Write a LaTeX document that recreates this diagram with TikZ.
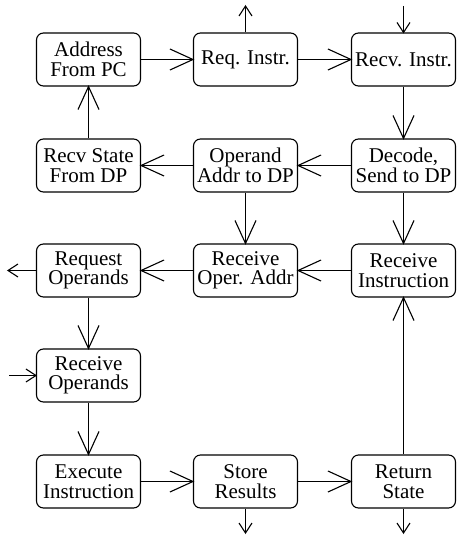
\documentclass[tikz,border=0pt]{standalone}
\usepackage{fontspec}
\setmainfont{Liberation Serif}
\usetikzlibrary{arrows.meta}

% open "V" head whose shaft runs right up to the tip
\pgfdeclarearrow{
  name = OpenVee,
  parameters = {\the\pgfarrowlength,\the\pgfarrowwidth},
  setup code = {
    \pgfarrowssettipend{0pt}
    \pgfarrowssetlineend{0pt}
    \pgfarrowssetbackend{-\pgfarrowlength}
    \pgfarrowshullpoint{0pt}{0pt}
    \pgfarrowsupperhullpoint{-\pgfarrowlength}{.5\pgfarrowwidth}
    \pgfarrowssavethe\pgfarrowlength
    \pgfarrowssavethe\pgfarrowwidth
  },
  drawing code = {
    \pgfsetmiterjoin
    \pgfpathmoveto{\pgfqpoint{-\pgfarrowlength}{.5\pgfarrowwidth}}
    \pgfpathlineto{\pgfpointorigin}
    \pgfpathlineto{\pgfqpoint{-\pgfarrowlength}{-.5\pgfarrowwidth}}
    \pgfusepathqstroke
  },
  defaults = {length = 22pt, width = 21pt}
}

\begin{document}
\begin{tikzpicture}[x=1pt,y=-1pt,
  state/.style={draw, rounded corners=7pt, minimum width=104pt, minimum height=53pt,
    inner sep=0pt, align=center, font=\fontsize{21}{19.5}\selectfont, line width=1.1pt},
  flow/.style={line width=1.1pt, -{OpenVee[length=23pt,width=21pt]}},
  ext/.style={line width=1.1pt, -{OpenVee[length=10pt,width=13pt]}}]
  \useasboundingbox (0,0) rectangle (456,535);

  % states of the control unit
  \node[state] (addr)   at (88.5,59.5)   {Address\\From PC};
  \node[state] (req)    at (245.5,59.5)  {Req. Instr.};
  \node[state] (recv)   at (403.5,59.5)  {Recv. Instr.};
  \node[state] (rstate) at (88.5,165.5)  {Recv State\\From DP};
  \node[state] (opaddr) at (245.5,165.5) {Operand\\Addr to DP};
  \node[state] (decode) at (403.5,165.5) {Decode,\\Send to DP};
  \node[state] (reqop)  at (88.5,270.5)  {Request\\Operands};
  \node[state] (recvop) at (245.5,270.5) {Receive\\Oper. Addr};
  \node[state] (rinst)  at (403.5,270.5) {Receive\\Instruction};
  \node[state] (ropnds) at (88.5,375.5)  {Receive\\Operands};
  \node[state] (exec)   at (88.5,481.5)  {Execute\\Instruction};
  \node[state] (store)  at (245.5,481.5) {Store\\Results};
  \node[state] (ret)    at (403.5,481.5) {Return\\State};

  % free ends of the external signals
  \coordinate (reqOut)   at (245.5,6);
  \coordinate (recvIn)   at (403.5,6);
  \coordinate (opOut)    at (8,270.5);
  \coordinate (opIn)     at (9,375.5);
  \coordinate (storeOut) at (245.5,533);
  \coordinate (retOut)   at (403.5,533);

  % transitions
  \draw[flow] (addr) -- (req);
  \draw[flow] (req) -- (recv);
  \draw[flow] (recv) -- (decode);
  \draw[flow] (decode) -- (opaddr);
  \draw[flow] (opaddr) -- (rstate);
  \draw[flow] (rstate) -- (addr);
  \draw[flow] (opaddr) -- (recvop);
  \draw[flow] (decode) -- (rinst);
  \draw[flow] (rinst) -- (recvop);
  \draw[flow] (recvop) -- (reqop);
  \draw[flow] (reqop) -- (ropnds);
  \draw[flow] (ropnds) -- (exec);
  \draw[flow] (exec) -- (store);
  \draw[flow] (store) -- (ret);
  \draw[flow] (ret) -- (rinst);

  % external signals
  \draw[ext] (req.north) -- (reqOut);
  \draw[ext] (recvIn) -- (recv.north);
  \draw[ext] (reqop.west) -- (opOut);
  \draw[ext] (opIn) -- (ropnds.west);
  \draw[ext] (store.south) -- (storeOut);
  \draw[ext] (ret.south) -- (retOut);
\end{tikzpicture}
\end{document}
